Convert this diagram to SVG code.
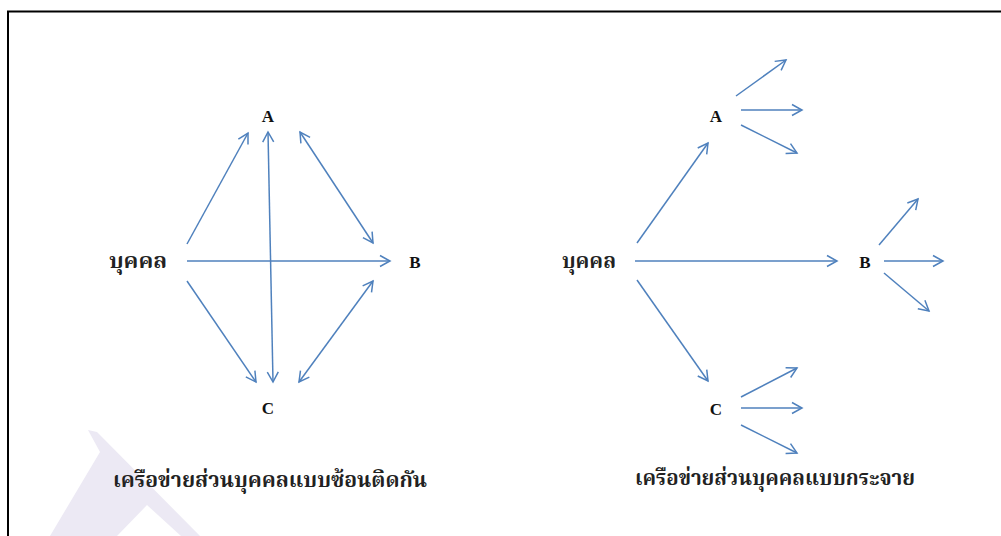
<svg xmlns="http://www.w3.org/2000/svg" width="1001" height="536" viewBox="0 0 1001 536">
<style>
.lbl{font-family:"Liberation Serif","Times New Roman",serif;font-weight:bold;font-size:17px;fill:#111}
.th{font-family:"Noto Serif Thai","Noto Sans Thai","Loma","Garuda","Noto Sans",sans-serif;font-weight:bold;fill:#222}
.c{stroke:#4f81bd;stroke-width:1.5;fill:none}
.one{marker-end:url(#ah)}
.two{marker-start:url(#ah);marker-end:url(#ah)}
</style>
<defs>
<marker id="ah" viewBox="-12 -8 14 16" refX="0" refY="0" markerWidth="14" markerHeight="16" markerUnits="userSpaceOnUse" orient="auto-start-reverse">
<path d="M-10,-5.5 L0,0 L-10,5.5" fill="none" stroke="#4f81bd" stroke-width="1.5"/>
</marker>
</defs>
<rect width="1001" height="536" fill="#fff"/>
<polygon points="88,430 97,432 200,536 181,536 147,505 117,536 50,536 100,452" fill="#ece9f4"/>
<path d="M8,536 V11.5 H1001" fill="none" stroke="#000" stroke-width="2"/>

<g id="connectors">
<line class="c one" x1="187" y1="244" x2="248" y2="133"/>
<line class="c two" x1="268" y1="132" x2="273" y2="382"/>
<line class="c two" x1="300" y1="132" x2="373" y2="243"/>
<line class="c one" x1="187" y1="261" x2="390" y2="261"/>
<line class="c one" x1="187" y1="281" x2="256" y2="382"/>
<line class="c two" x1="299" y1="382" x2="373" y2="281"/>

<line class="c one" x1="637" y1="243" x2="708" y2="143"/>
<line class="c one" x1="635" y1="261" x2="837" y2="261"/>
<line class="c one" x1="637" y1="280" x2="708" y2="381"/>
<line class="c one" x1="736" y1="96" x2="786" y2="60"/>
<line class="c one" x1="741" y1="110" x2="802" y2="110"/>
<line class="c one" x1="741" y1="125" x2="797" y2="153"/>
<line class="c one" x1="879" y1="245" x2="918" y2="199"/>
<line class="c one" x1="884" y1="261" x2="943" y2="261"/>
<line class="c one" x1="884" y1="273" x2="929" y2="311"/>
<line class="c one" x1="741" y1="397" x2="797" y2="368"/>
<line class="c one" x1="741" y1="408" x2="802" y2="408"/>
<line class="c one" x1="741" y1="425" x2="797" y2="453"/>
</g>

<g id="n-person-left"><text class="th" x="109" y="268" font-size="21" textLength="58" lengthAdjust="spacingAndGlyphs">บุคคล</text></g>
<g id="n-A-left"><text class="lbl" x="268" y="122" text-anchor="middle">A</text></g>
<g id="n-B-left"><text class="lbl" x="415" y="268" text-anchor="middle">B</text></g>
<g id="n-C-left"><text class="lbl" x="268" y="414" text-anchor="middle">C</text></g>
<g id="title-left"><text class="th" x="113" y="487" font-size="21" textLength="314" lengthAdjust="spacingAndGlyphs">เครือข่ายส่วนบุคคลแบบซ้อนติดกัน</text></g>

<g id="n-person-right"><text class="th" x="562" y="268" font-size="21" textLength="54" lengthAdjust="spacingAndGlyphs">บุคคล</text></g>
<g id="n-A-right"><text class="lbl" x="716" y="122" text-anchor="middle">A</text></g>
<g id="n-B-right"><text class="lbl" x="865" y="268" text-anchor="middle">B</text></g>
<g id="n-C-right"><text class="lbl" x="716" y="415" text-anchor="middle">C</text></g>
<g id="title-right"><text class="th" x="635" y="485" font-size="21" textLength="280" lengthAdjust="spacingAndGlyphs">เครือข่ายส่วนบุคคลแบบกระจาย</text></g>
</svg>
